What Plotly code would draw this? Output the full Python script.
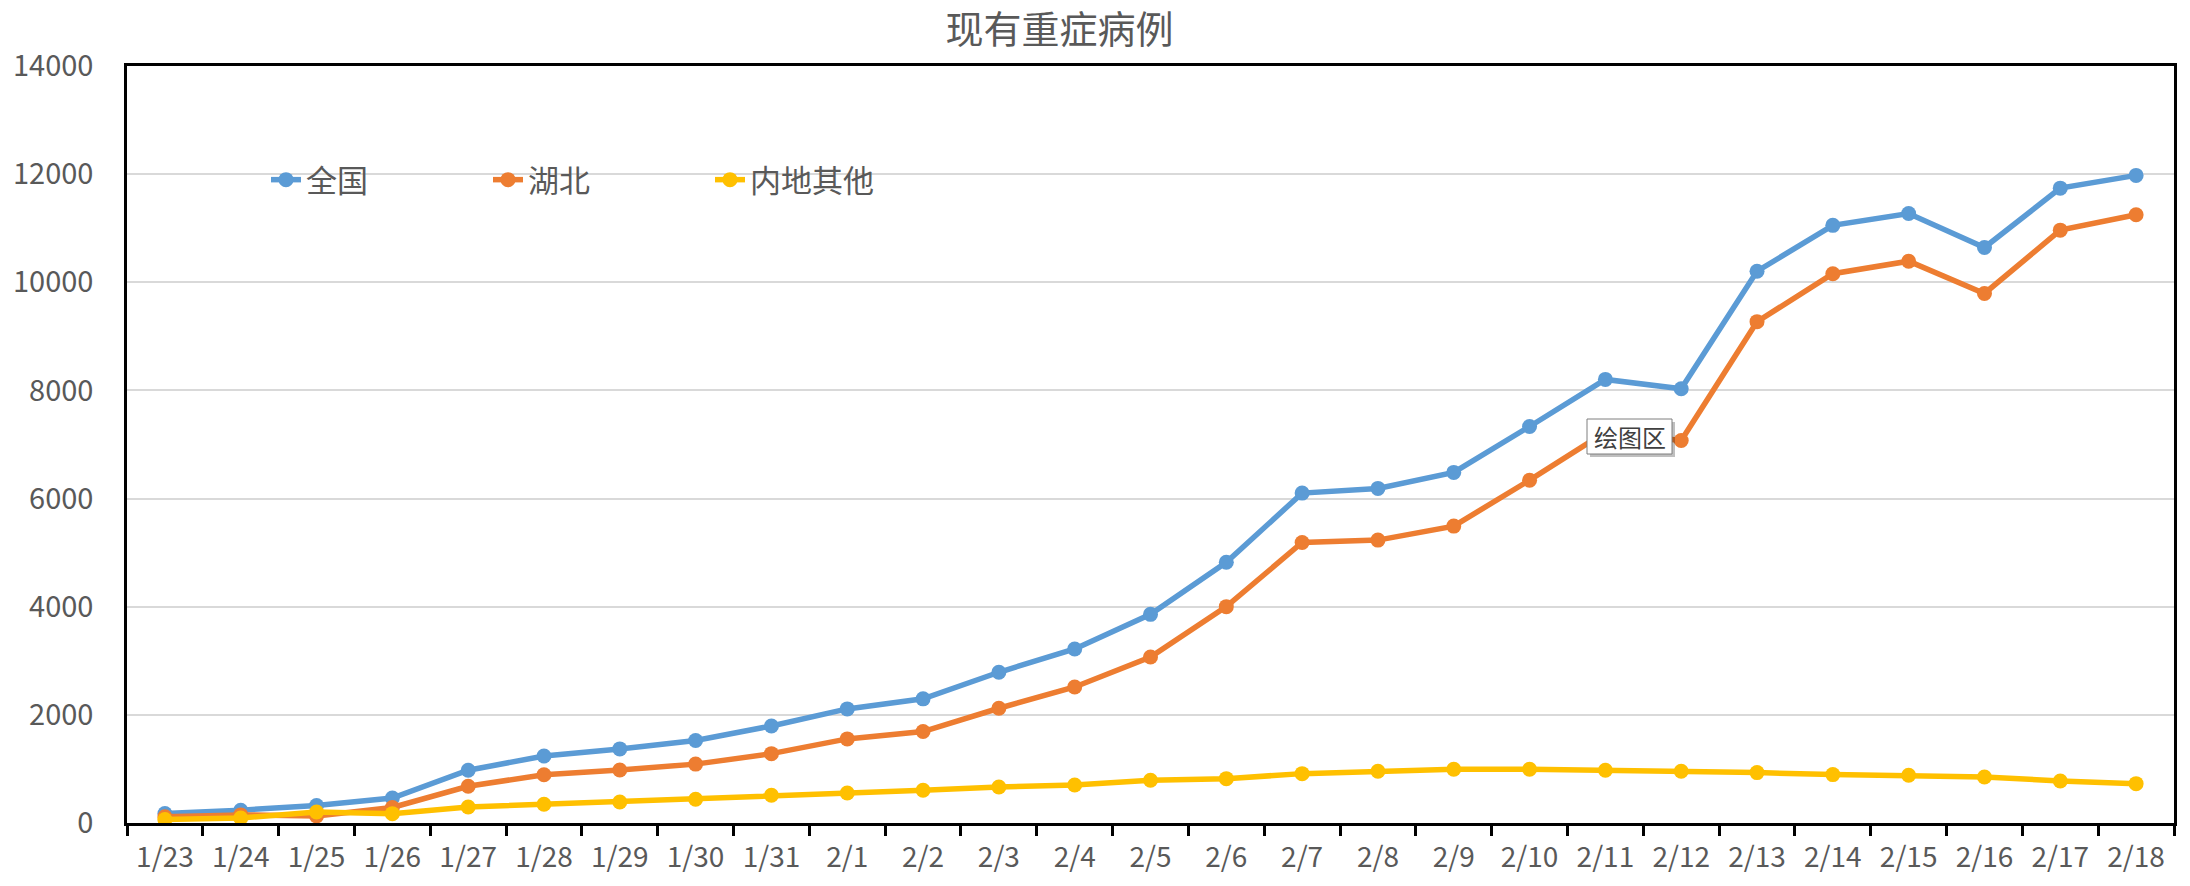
import plotly.graph_objects as go

dates = ["1/23", "1/24", "1/25", "1/26", "1/27", "1/28", "1/29", "1/30", "1/31",
         "2/1", "2/2", "2/3", "2/4", "2/5", "2/6", "2/7", "2/8", "2/9", "2/10",
         "2/11", "2/12", "2/13", "2/14", "2/15", "2/16", "2/17", "2/18"]
national = [177, 237, 324, 461, 976, 1239, 1370, 1527, 1795, 2110, 2296, 2788, 3219,
            3859, 4821, 6101, 6188, 6484, 7333, 8204, 8030, 10204, 11053, 11272,
            10644, 11741, 11977]
hubei = [114, 150, 130, 288, 680, 893, 981, 1089, 1283, 1555, 1691, 2122, 2516,
         3069, 4001, 5188, 5232, 5491, 6340, 7229, 7074, 9272, 10158, 10390,
         9793, 10964, 11249]
others = [63, 93, 204, 173, 296, 346, 389, 438, 512, 555, 605, 666, 703, 790, 820,
          913, 956, 993, 993, 975, 956, 932, 895, 882, 851, 777, 728]
series_names = ["全国", "湖北", "内地其他"]
colors = ["#5B9BD5", "#ED7D31", "#FFC000"]
y_ticks = [0, 2000, 4000, 6000, 8000, 10000, 12000, 14000]

W, H = 2190, 886
ML, MR, MT, MB = 127, 16, 66, 63
PW, PH = W - ML - MR, H - MT - MB

FONT = "Noto Sans CJK SC"
GREY = "#595959"


def px_x(px):
    return (px - ML) / PW


def px_y(py):
    return (H - MB - py) / PH


fig = go.Figure()
for name, vals, col in zip(series_names, [national, hubei, others], colors):
    fig.add_trace(go.Scatter(
        x=dates, y=vals, name=name, mode="lines+markers",
        line=dict(color=col, width=5.5),
        marker=dict(color=col, size=15, symbol="circle"),
    ))

fig.update_layout(
    width=W, height=H,
    margin=dict(l=ML, r=MR, t=MT, b=MB),
    paper_bgcolor="white", plot_bgcolor="white",
    font=dict(family=FONT, color=GREY, size=28),
    title=dict(text="现有重症病例", x=1059.5 / W, xanchor="center", xref="container",
               y=1 - 30 / H, yanchor="middle", yref="container",
               font=dict(size=38, color=GREY, family=FONT)),
    showlegend=True,
    legend=dict(orientation="h", x=px_x(266), xanchor="left",
                y=px_y(180), yanchor="middle",
                bgcolor="rgba(0,0,0,0)", borderwidth=0,
                font=dict(size=31, color=GREY, family=FONT),
                entrywidth=177, entrywidthmode="pixels",
                traceorder="normal"),
    xaxis=dict(
        type="category", categoryorder="array", categoryarray=dates,
        range=[-0.5, len(dates) - 0.5], fixedrange=True,
        showline=True, linecolor="black", linewidth=2.5, mirror=True,
        ticks="outside", ticklen=10, tickwidth=2.5, tickcolor="black",
        tickson="boundaries", showgrid=False, zeroline=False,
        tickfont=dict(size=28, color=GREY, family=FONT),
        ticklabelstandoff=8,
    ),
    yaxis=dict(
        range=[0, 14000], tickvals=y_ticks, ticktext=[str(v) for v in y_ticks],
        showline=True, linecolor="black", linewidth=2.5, mirror=True,
        showgrid=True, gridcolor="#D9D9D9", gridwidth=2, zeroline=False,
        ticks="", tickfont=dict(size=29, color=GREY, family=FONT),
        ticklabelstandoff=25,
    ),
    hovermode=False,
)

# legend background box (hides the gridline behind the legend, as in Excel)
fig.add_shape(type="rect", xref="paper", yref="paper",
              x0=px_x(230), x1=px_x(971), y0=px_y(198), y1=px_y(160),
              fillcolor="white", line=dict(width=0), layer="between")

# Excel-style tooltip left in the screenshot (with a soft drop shadow)
tx0, ty0, tx1, ty1 = 1587, 419, 1672, 454
fig.add_shape(type="rect", xref="paper", yref="paper",
              x0=px_x(tx0 + 3), x1=px_x(tx1 + 3), y0=px_y(ty1 + 3), y1=px_y(ty0 + 3),
              fillcolor="rgba(0,0,0,0.25)", line=dict(width=0), layer="above")
fig.add_shape(type="rect", xref="paper", yref="paper",
              x0=px_x(tx0), x1=px_x(tx1), y0=px_y(ty1), y1=px_y(ty0),
              fillcolor="white", line=dict(color="#7F7F7F", width=1), layer="above")
fig.add_annotation(
    text="绘图区", xref="paper", yref="paper",
    x=px_x((tx0 + tx1) / 2), y=px_y((ty0 + ty1) / 2),
    xanchor="center", yanchor="middle",
    showarrow=False, font=dict(size=24, color="#404040", family=FONT),
)

fig.write_html("out.html", config={"displayModeBar": False},
               post_script="document.body.style.margin='0';document.body.style.overflow='hidden';")
